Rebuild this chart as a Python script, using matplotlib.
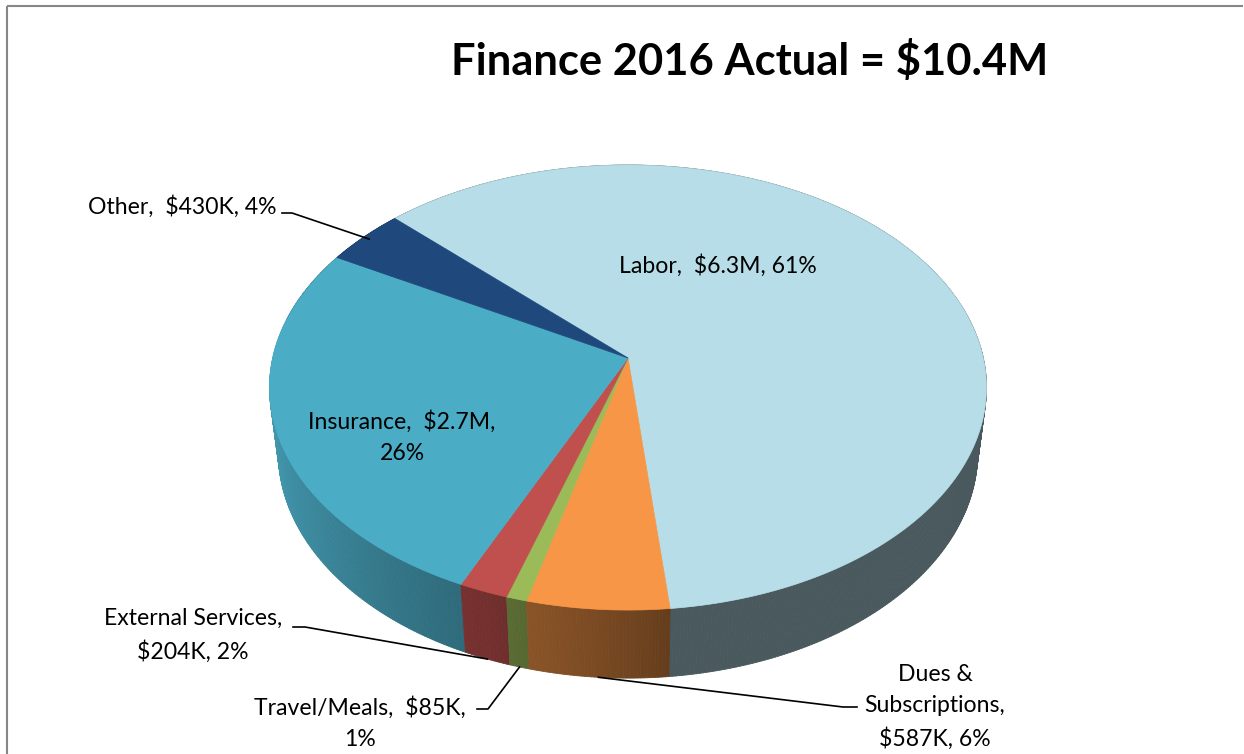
import numpy as np
import matplotlib.pyplot as plt
from matplotlib.collections import PolyCollection
from matplotlib.patches import Polygon

# Finance 2016 actual spend, in $K, listed clockwise around the pie
categories = ['Labor', 'Dues & Subscriptions', 'Travel/Meals', 'External Services', 'Insurance', 'Other']
values_k = [6350, 587, 85, 204, 2740, 430]
label_texts = ['Labor,  $6.3M, 61%',
               'Dues &\nSubscriptions,\n$587K, 6%',
               'Travel/Meals,  $85K,\n1%',
               'External Services,\n$204K, 2%',
               'Insurance,  $2.7M,\n26%',
               'Other,  $430K, 4%']
top_colors = ['#B7DEE8', '#F79646', '#9BBB59', '#C0504D', '#4BACC6', '#1F497D']
title = 'Finance 2016 Actual = $10.4M'

# 3D pie geometry (pixels / radius units)
cx, cy = 628, 358
F = 355.3          # screen scale of the radius
D = 5.94           # camera distance / radius
tilt = np.radians(37.97)
H = 0.239          # thickness / radius
start = 135.8      # angle of first slice, going clockwise

s_t, c_t = np.sin(tilt), np.cos(tilt)


def proj(X, Y, Z):
    w = D + Y * c_t - Z * s_t
    sx = cx + F * X * D / w
    sy = cy - F * (Y * s_t + Z * c_t) * D / w
    return sx, sy


def wall_shade(deg):
    d = deg % 360
    if 180 <= d <= 276:
        return 0.4 + 0.55 * ((276 - d) / 96) ** 0.8
    if 170 <= d < 180:
        return 0.95
    return 0.4


def shade(hexcol, f):
    rgb = np.array([int(hexcol[i:i + 2], 16) for i in (1, 3, 5)]) / 255.0
    return tuple(rgb * f)


total = sum(values_k)
spans = [v / total * 360 for v in values_k]
bounds = [start]
for sp in spans:
    bounds.append(bounds[-1] - sp)

fig = plt.figure(figsize=(12.44, 7.54), dpi=100)
ax = fig.add_axes([0, 0, 1, 1])
ax.set_xlim(0, 1244)
ax.set_ylim(754, 0)
ax.axis('off')

# side wall, drawn back to front
quads, qcols, depth = [], [], []
for i, col in enumerate(top_colors):
    a1, a2 = bounds[i], bounds[i + 1]
    n = max(2, int(abs(a1 - a2) / 0.5))
    th = np.linspace(a1, a2, n + 1)
    for j in range(n):
        t0, t1 = np.radians(th[j]), np.radians(th[j + 1])
        p = [proj(np.cos(t0), np.sin(t0), 0), proj(np.cos(t1), np.sin(t1), 0),
             proj(np.cos(t1), np.sin(t1), -H), proj(np.cos(t0), np.sin(t0), -H)]
        quads.append(p)
        qcols.append(shade(col, wall_shade((th[j] + th[j + 1]) / 2)))
        depth.append(np.sin((t0 + t1) / 2))
order = np.argsort(depth)[::-1]
pc = PolyCollection([quads[k] for k in order], facecolors=[qcols[k] for k in order],
                    edgecolors=[qcols[k] for k in order], linewidths=0.6, zorder=1)
ax.add_collection(pc)

# top face
for i, col in enumerate(top_colors):
    th = np.radians(np.linspace(bounds[i], bounds[i + 1], 200))
    sx, sy = proj(np.cos(th), np.sin(th), 0)
    pts = [(cx, cy)] + list(zip(sx, sy))
    ax.add_patch(Polygon(pts, closed=True, facecolor=col, edgecolor=col, lw=0.5, zorder=2))

font = 'Lato'
fs = 16.6
ls = 1.6
mid = [np.radians((bounds[i] + bounds[i + 1]) / 2) for i in range(len(values_k))]

# labels inside slices
ax.text(718, 266, label_texts[0], ha='center', va='center', fontsize=fs, family=font, zorder=5)
ax.text(402, 437, label_texts[4], ha='center', va='center', fontsize=fs, family=font,
        linespacing=ls, zorder=5)

# outside labels with leader lines
outside = [
    # index, text xy, ha, elbow start, elbow end, z of anchor, radius
    (5, (276, 207), 'right', (282, 213), (292, 213), 0, 0.98),
    (3, (193, 635), 'center', (293, 627), (305, 627), -H, 1.0),
    (2, (360, 723), 'center', (477, 709), (488, 709), -H, 1.0),
    (1, (935, 707), 'center', (857, 707), (843, 707), -H, 1.0),
]
for idx, txy, ha, e0, e1, z, r in outside:
    ax.text(txy[0], txy[1], label_texts[idx], ha=ha, va='center', fontsize=fs, family=font,
            linespacing=ls, multialignment='center', zorder=5)
    px, py = proj(r * np.cos(mid[idx]), r * np.sin(mid[idx]), z)
    ax.plot([e0[0], e1[0], px], [e0[1], e1[1], py], color='black', lw=1.2, zorder=4)

ax.text(750, 61, title, ha='center', va='center', fontsize=31.3, fontweight='bold', family=font)

# chart frame (top and left edges visible)
ax.plot([7, 7], [754, 6], color='#878787', lw=1.5, solid_capstyle='butt')
ax.plot([7, 1243], [6, 6], color='#878787', lw=1.5, solid_capstyle='butt')

fig.savefig('out.png', dpi=100)
